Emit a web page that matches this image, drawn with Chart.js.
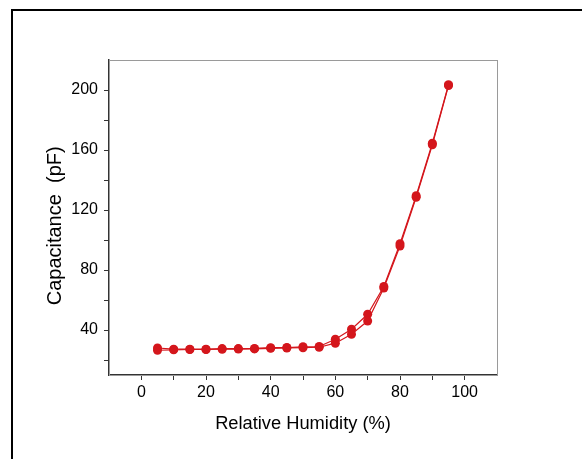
<!DOCTYPE html>
<html>
<head>
<meta charset="utf-8">
<script src="https://cdn.jsdelivr.net/npm/chart.js@4/dist/chart.umd.min.js"></script>
<style>
  body { margin: 0; background: #fff; }
  #wrap { position: relative; width: 582px; height: 459px; overflow: hidden; }
  #frame { position: absolute; left: 11px; top: 9px; width: 600px; height: 480px;
           border-left: 2px solid #000; border-top: 2px solid #000; }
  #chart { position: absolute; left: 0; top: 0; }
</style>
</head>
<body>
<div id="wrap">
  <div id="frame"></div>
  <canvas id="chart" width="582" height="459"></canvas>
</div>
<script>
const humidity = [5, 10, 15, 20, 25, 30, 35, 40, 45, 50, 55, 60, 65, 70, 75, 80, 85, 90, 95];
const capUp = [26.5, 26.8, 27, 27, 27.2, 27.3, 27.4, 27.8, 28, 28.2, 28.5, 31.2, 37.2, 46, 68, 96, 128.5, 163.5, 203];
const capDown = [28, 27.2, 27.2, 27.2, 27.6, 27.6, 27.7, 28.2, 28.3, 28.8, 29, 33.8, 40.5, 50.5, 69, 97.5, 129.5, 164.5, 203.5];
const xTicks = [0, 10, 20, 30, 40, 50, 60, 70, 80, 90, 100];
const yTicks = [20, 40, 60, 80, 100, 120, 140, 160, 180, 200];

const red = 'rgb(212, 22, 28)';
const family = '"Liberation Sans", Arial, sans-serif';
const tickFont = { family: family, size: 16 };
const textColor = '#000';

function toPoints(ys) {
  return humidity.map((x, i) => ({ x: x, y: ys[i] }));
}

const boxPlugin = {
  id: 'box',
  beforeDatasetsDraw(chart) {
    const a = chart.chartArea;
    const ctx = chart.ctx;
    ctx.save();
    ctx.strokeStyle = '#9a9a9a';
    ctx.lineWidth = 1;
    ctx.strokeRect(a.left + 0.5, a.top + 0.5, a.right - a.left, a.bottom - a.top);
    ctx.restore();
  },
};

new Chart(document.getElementById('chart'), {
  type: 'line',
  data: {
    datasets: [
      { data: toPoints(capUp), borderColor: red, backgroundColor: red, borderWidth: 1.2,
        pointRadius: 4.5, pointBackgroundColor: red, pointBorderWidth: 0 },
      { data: toPoints(capDown), borderColor: red, backgroundColor: red, borderWidth: 1.2,
        pointRadius: 4.5, pointBackgroundColor: red, pointBorderWidth: 0 },
    ],
  },
  options: {
    responsive: false,
    animation: false,
    layout: { padding: { left: 0, top: 60, right: 85, bottom: 0 } },
    plugins: { legend: { display: false }, tooltip: { enabled: false } },
    scales: {
      x: {
        type: 'linear',
        min: -10,
        max: 110,
        afterBuildTicks: (s) => { s.ticks = xTicks.map((v) => ({ value: v })); },
        afterFit: (s) => { s.height = 84; },
        border: { color: '#333', width: 1.5 },
        grid: { drawOnChartArea: false, tickLength: 5, tickColor: '#333' },
        ticks: {
          padding: 3,
          color: textColor,
          font: tickFont,
          maxRotation: 0,
          autoSkip: false,
          callback: (v) => (v % 20 === 0 ? v : ''),
        },
        title: {
          display: true,
          text: 'Relative Humidity (%)',
          color: textColor,
          font: { family: family, size: 18.3 },
          padding: { top: 0, bottom: 24 },
        },
      },
      y: {
        min: 10,
        max: 220,
        afterBuildTicks: (s) => { s.ticks = yTicks.map((v) => ({ value: v })); },
        afterFit: (s) => { s.width = 109; },
        border: { color: '#333', width: 1.5 },
        grid: { drawOnChartArea: false, tickLength: 5, tickColor: '#333' },
        ticks: {
          padding: 6,
          color: textColor,
          font: tickFont,
          autoSkip: false,
          callback: (v) => (v % 40 === 0 ? v : ''),
        },
        title: {
          display: true,
          // trailing spaces push the label a little lower, as in the picture
          text: 'Capacitance  (pF)\u00a0\u00a0\u00a0',
          color: textColor,
          font: { family: family, size: 20 },
          padding: { top: 43, bottom: 0 },
        },
      },
    },
  },
  plugins: [boxPlugin],
});
</script>
</body>
</html>
